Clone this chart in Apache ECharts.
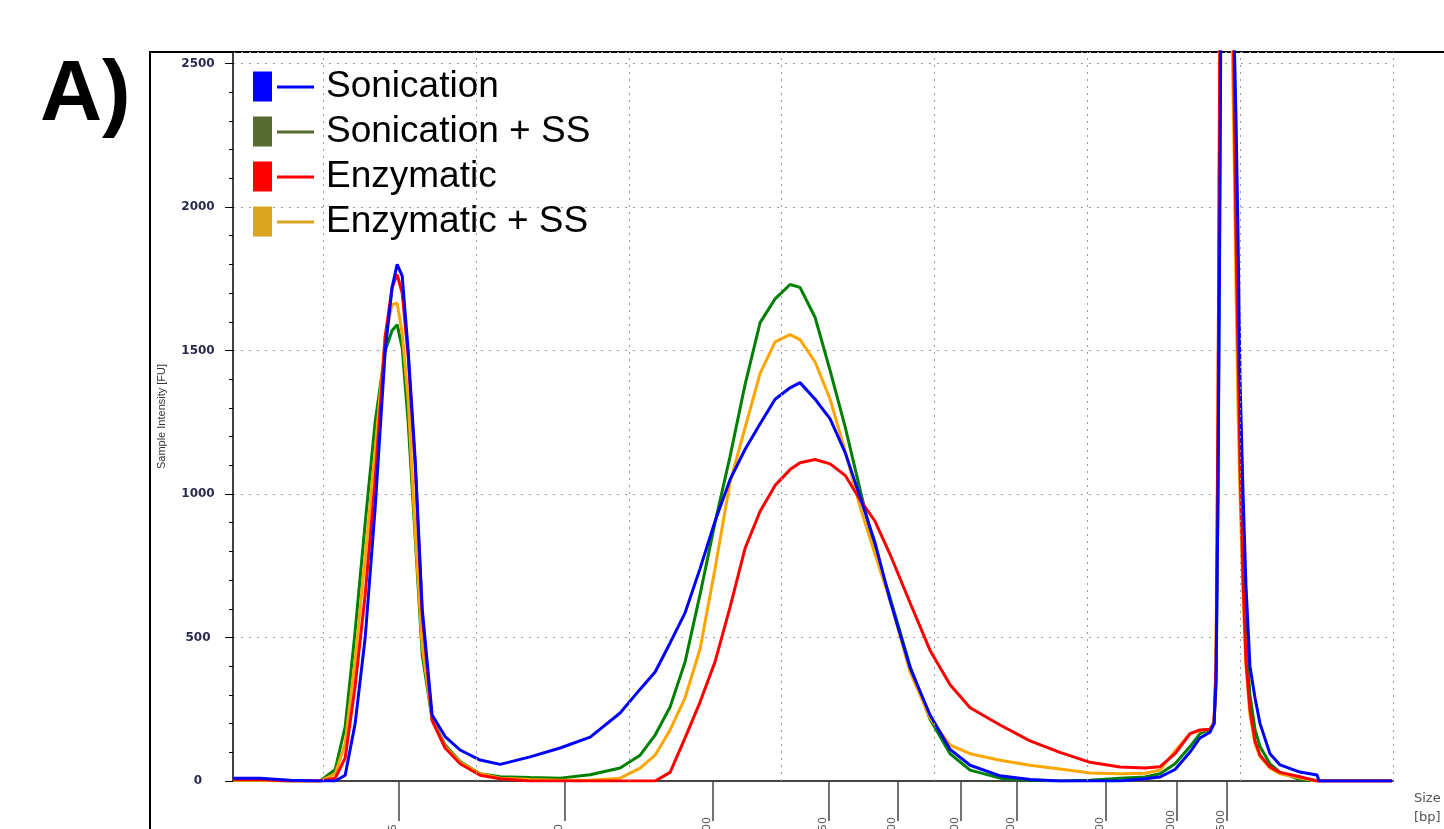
<!DOCTYPE html>
<html>
<head>
<meta charset="utf-8">
<title>Electropherogram A)</title>
<script src="https://cdn.jsdelivr.net/npm/echarts@6.0.0/dist/echarts.min.js"></script>
<style>
  html, body { margin: 0; padding: 0; background: #fff; }
  #chart { width: 1444px; height: 829px; }
</style>
</head>
<body>
<div id="chart"></div>
<script>
// migration time [s] of every sample point (shared by all traces)
var sizeTime = [
  14.11, 15.88, 17.84, 19.80, 20.79, 21.44, 22.09, 22.75, 23.40, 24.06,
  24.51, 24.84, 25.17, 25.56, 26.02, 26.48, 27.13, 27.98, 28.96, 30.27,
  31.58, 33.54, 35.50, 37.47, 39.43, 40.74, 41.72, 42.70, 43.68, 44.66,
  45.64, 46.62, 47.60, 48.59, 49.57, 50.55, 51.20, 52.19, 53.17, 54.15,
  55.13, 56.11, 57.09, 58.40, 59.71, 61.02, 62.33, 64.29, 66.25, 68.21,
  70.18, 72.14, 73.77, 74.76, 75.74, 76.72, 77.37, 78.03, 78.29, 78.42,
  78.55, 78.68, 78.81, 79.07, 79.33, 79.60, 79.73, 79.86, 79.99, 80.19,
  80.38, 80.64, 80.97, 81.30, 81.95, 82.61, 83.91, 85.03, 85.16, 89.93
]

// sample intensity [FU]
var sonication = [
  10, 10, 3, 0, 0, 20, 200, 500, 950, 1500,
  1720, 1800, 1760, 1500, 1120, 600, 230, 155, 108, 73,
  58, 84, 115, 153, 237, 320, 380, 481, 586, 740,
  905, 1050, 1155, 1245, 1330, 1370, 1388, 1330, 1262, 1145,
  990, 830, 630, 395, 230, 110, 55, 18, 5, 0,
  0, 0, 8, 14, 40, 101, 150, 170, 200, 340,
  1000, 2050, 3500, 4500, 4500, 2600, 2300, 1900, 1400, 1000,
  680, 400, 290, 200, 95, 56, 31, 21, 0, 0
]
var sonicationSS = [
  3, 3, 0, 0, 40, 190, 520, 900, 1250, 1500,
  1570, 1590, 1510, 1250, 850, 440, 215, 125, 68, 25,
  15, 12, 10, 22, 45, 90, 160, 258, 415, 650,
  900, 1130, 1380, 1597, 1680, 1730, 1720, 1615, 1430, 1235,
  1015, 800, 640, 400, 215, 95, 38, 10, 3, 0,
  3, 10, 14, 25, 60, 120, 165, 180, 200, 350,
  1000, 2300, 3500, 4500, 4500, 2700, 2000, 1500, 1100, 750,
  500, 300, 180, 120, 60, 30, 5, 0, 0, 0
]
var enzymatic = [
  5, 5, 0, 0, 10, 80, 330, 650, 1050, 1550,
  1720, 1765, 1700, 1480, 1100, 580, 210, 115, 60, 20,
  8, 0, 0, 0, 0, 0, 0, 30, 150, 275,
  415, 605, 810, 940, 1030, 1085, 1109, 1120, 1105, 1065,
  980, 905, 790, 621, 455, 335, 255, 195, 140, 100,
  65, 49, 45, 50, 95, 165, 178, 180, 200, 400,
  1300, 2700, 3800, 4500, 4000, 2400, 1900, 1500, 1100, 700,
  420, 250, 140, 90, 49, 30, 15, 0, 0, 0
]
var enzymaticSS = [
  3, 3, 0, 0, 25, 130, 420, 780, 1150, 1550,
  1660, 1665, 1560, 1330, 870, 470, 215, 120, 65, 25,
  10, 5, 3, 3, 10, 45, 90, 178, 290, 460,
  740, 1040, 1230, 1420, 1530, 1555, 1538, 1460, 1330, 1150,
  955, 790, 630, 380, 220, 125, 95, 72, 55, 42,
  28, 25, 27, 38, 105, 165, 175, 180, 210, 400,
  1300, 2700, 3800, 4500, 3000, 2200, 1700, 1300, 1000, 650,
  400, 230, 130, 85, 45, 25, 10, 0, 0, 0
]

// vertical dotted grid every 10 s
var timeGrid = [20, 30, 40, 50, 60, 70, 80, 90]

// ladder sizes [bp] and where they sit on the time axis
var sizeTickTimes = [24.97, 35.83, 45.51, 53.10, 57.62, 61.74, 65.40, 71.22, 75.87, 79.14]
var sizeTickLabels = ['35', '50', '100', '150', '200', '300', '400', '700', '1000', '1500']

var chart = echarts.init(document.getElementById('chart'))

function pairs(ys) {
  return sizeTime.map(function (t, i) { return [t, ys[i]] })
}

function trace(name, color, ys) {
  return {
    name: name,
    type: 'line',
    showSymbol: false,
    smooth: false,
    xAxisIndex: 0,
    lineStyle: { width: 3, color: color },
    itemStyle: { color: color },
    data: pairs(ys)
  }
}

chart.setOption({
  animation: false,
  backgroundColor: '#fff',
  grid: {
    left: 233,
    right: 51,
    top: 52,
    bottom: 48,
    outerBoundsMode: 'none',
    containLabel: false
  },
  legend: {
    orient: 'vertical',
    left: 248,
    top: 63,
    itemWidth: 61,
    itemHeight: 30,
    itemGap: 8,
    icon: 'path://M0,0H19V30H0Z M24,14H61V17H24Z',
    itemStyle: { borderWidth: 0 },
    textStyle: {
      fontSize: 37,
      fontFamily: 'Liberation Sans',
      color: '#000',
      padding: [0, 0, 0, 7]
    },
    data: [
      { name: 'Sonication', itemStyle: { color: '#0000ff' } },
      { name: 'Sonication + SS', itemStyle: { color: '#556b2f' } },
      { name: 'Enzymatic', itemStyle: { color: '#ff0000' } },
      { name: 'Enzymatic + SS', itemStyle: { color: '#daa520' } }
    ]
  },
  xAxis: [{
    type: 'value',
    min: 14.1,
    max: 90,
    axisLine: { show: true, onZero: false, lineStyle: { color: '#444', width: 2 } },
    axisTick: { show: false },
    axisLabel: { show: false },
    splitLine: { show: false }
  }, {
    type: 'value',
    min: 14.1,
    max: 90,
    position: 'bottom',
    offset: 16,
    axisLine: { show: false },
    axisTick: {
      show: true,
      customValues: sizeTickTimes,
      length: 40,
      lineStyle: { color: '#444', width: 1.5 }
    },
    axisLabel: {
      customValues: sizeTickTimes,
      rotate: 90,
      align: 'left',
      verticalAlign: 'bottom',
      margin: 41,
      fontSize: 11,
      fontFamily: 'DejaVu Sans',
      color: '#555',
      formatter: function (v) {
        var best = 0
        for (var i = 1; i < sizeTickTimes.length; i++) {
          if (Math.abs(sizeTickTimes[i] - v) < Math.abs(sizeTickTimes[best] - v)) best = i
        }
        return sizeTickLabels[best]
      }
    },
    splitLine: { show: false }
  }],
  yAxis: {
    type: 'value',
    min: 0,
    max: 2540,
    interval: 500,
    name: 'Sample Intensity [FU]',
    nameLocation: 'middle',
    nameGap: 66,
    nameTextStyle: { fontSize: 11, fontFamily: 'Liberation Sans', color: '#333' },
    axisLine: { show: true, lineStyle: { color: '#000', width: 1.5 } },
    axisTick: { show: true, length: 8, lineStyle: { color: '#000' } },
    minorTick: { show: true, splitNumber: 5, length: 4, lineStyle: { color: '#000' } },
    axisLabel: {
      showMaxLabel: false,
      align: 'center',
      margin: 35,
      fontSize: 12,
      fontWeight: 'bold',
      fontFamily: 'DejaVu Sans',
      color: '#2a2a50',
      formatter: function (v) { return String(v) }
    },
    splitLine: { show: true, lineStyle: { color: '#9a9a9a', type: [2, 6], width: 1 } }
  },
  graphic: [{
    type: 'rect',
    z: 0,
    shape: { x: 150, y: 52, width: 1400, height: 900 },
    style: { fill: 'none', stroke: '#000', lineWidth: 2 }
  }, {
    type: 'text',
    x: 40,
    y: 96,
    style: {
      text: 'A)',
      font: 'bold 86px "Liberation Sans"',
      fill: '#000',
      textVerticalAlign: 'middle'
    }
  }, {
    type: 'text',
    x: 1414,
    y: 789,
    style: {
      text: 'Size\n[bp]',
      font: '13px "DejaVu Sans"',
      fill: '#555',
      lineHeight: 19
    }
  }],
  series: [
    {
      name: 'grid',
      type: 'line',
      z: 1,
      data: [],
      silent: true,
      markLine: {
        silent: true,
        symbol: 'none',
        label: { show: false },
        lineStyle: { color: '#9a9a9a', type: [2, 5], width: 1 },
        data: timeGrid.map(function (t) { return { xAxis: t } })
      }
    },
    trace('Sonication + SS', '#008000', sonicationSS),
    trace('Enzymatic + SS', '#ffa500', enzymaticSS),
    trace('Enzymatic', '#ff0000', enzymatic),
    trace('Sonication', '#0000ff', sonication)
  ]
})
</script>
</body>
</html>
